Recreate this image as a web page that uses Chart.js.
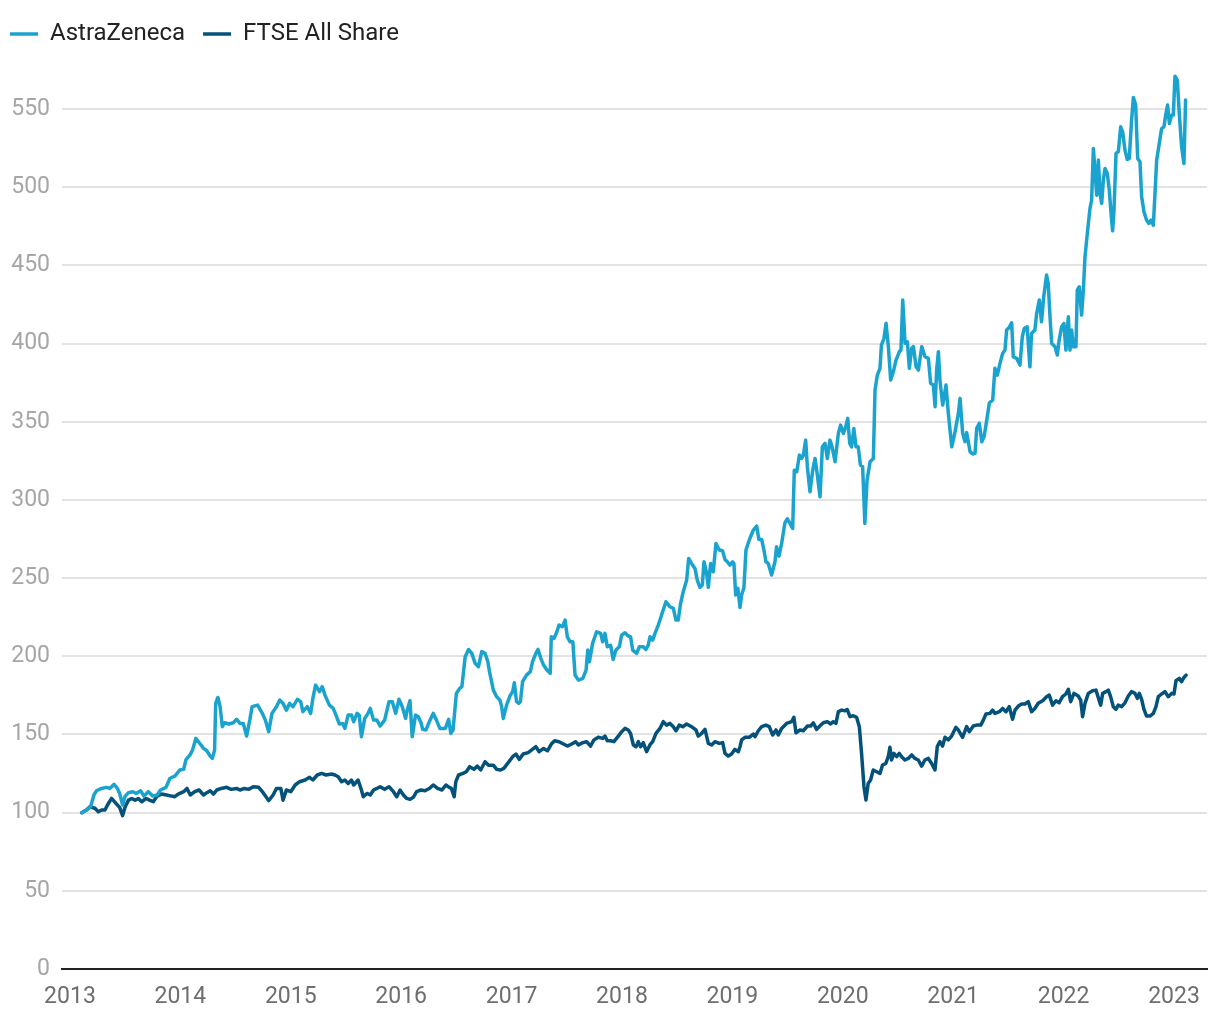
<!DOCTYPE html>
<html>
<head>
<meta charset="utf-8">
<title>AstraZeneca vs FTSE All Share</title>
<script src="https://cdn.jsdelivr.net/npm/chart.js@4.4.1/dist/chart.umd.min.js"></script>
<style>
  html, body { margin: 0; padding: 0; background: #ffffff; }
  canvas { display: block; }
</style>
</head>
<body>
<canvas id="chart" width="1220" height="1020"></canvas>
<script>
// Rebased index values (start = 100), dates as decimal years
const azYears = [
  2013.106, 2013.15, 2013.187, 2013.217, 2013.24, 2013.287, 2013.33, 2013.36, 2013.40, 2013.43,
  2013.45, 2013.477, 2013.50, 2013.53, 2013.57, 2013.60, 2013.64, 2013.67, 2013.71, 2013.75,
  2013.79, 2013.82, 2013.87, 2013.906, 2013.95, 2013.996, 2014.03, 2014.05, 2014.087, 2014.11,
  2014.14, 2014.18, 2014.21, 2014.24, 2014.27, 2014.29, 2014.31, 2014.32, 2014.34, 2014.36,
  2014.38, 2014.40, 2014.44, 2014.48, 2014.51, 2014.54, 2014.57, 2014.60, 2014.63, 2014.65,
  2014.70, 2014.74, 2014.77, 2014.80, 2014.83, 2014.87, 2014.90, 2014.93, 2014.96, 2014.99,
  2015.02, 2015.06, 2015.09, 2015.11, 2015.15, 2015.18, 2015.20, 2015.225, 2015.26, 2015.285,
  2015.31, 2015.35, 2015.385, 2015.415, 2015.44, 2015.47, 2015.49, 2015.52, 2015.55, 2015.57,
  2015.60, 2015.62, 2015.64, 2015.67, 2015.70, 2015.72, 2015.75, 2015.78, 2015.81, 2015.85,
  2015.89, 2015.92, 2015.95, 2015.98, 2016.01, 2016.04, 2016.055, 2016.08, 2016.10, 2016.13,
  2016.155, 2016.18, 2016.195, 2016.225, 2016.255, 2016.29, 2016.32, 2016.35, 2016.40, 2016.43,
  2016.45, 2016.47, 2016.50, 2016.53, 2016.55, 2016.58, 2016.61, 2016.64, 2016.67, 2016.70,
  2016.73, 2016.76, 2016.785, 2016.80, 2016.835, 2016.865, 2016.895, 2016.91, 2016.925, 2016.955,
  2016.985, 2017.01, 2017.025, 2017.045, 2017.065, 2017.08, 2017.10, 2017.135, 2017.17, 2017.19,
  2017.22, 2017.24, 2017.265, 2017.29, 2017.32, 2017.35, 2017.36, 2017.385, 2017.41, 2017.43,
  2017.46, 2017.485, 2017.505, 2017.53, 2017.555, 2017.575, 2017.605, 2017.645, 2017.675, 2017.69,
  2017.705, 2017.734, 2017.77, 2017.807, 2017.825, 2017.846, 2017.867, 2017.897, 2017.92, 2017.945,
  2017.976, 2017.997, 2018.027, 2018.057, 2018.078, 2018.097, 2018.133, 2018.157, 2018.193, 2018.217,
  2018.238, 2018.254, 2018.278, 2018.299, 2018.329, 2018.359, 2018.398, 2018.435, 2018.465, 2018.489,
  2018.51, 2018.531, 2018.555, 2018.586, 2018.604, 2018.63, 2018.661, 2018.682, 2018.706, 2018.728,
  2018.743, 2018.767, 2018.782, 2018.803, 2018.827, 2018.851, 2018.881, 2018.911, 2018.933, 2018.954,
  2018.978, 2019.002, 2019.014, 2019.03, 2019.05, 2019.069, 2019.084, 2019.105, 2019.123, 2019.153,
  2019.19, 2019.22, 2019.24, 2019.265, 2019.286, 2019.304, 2019.325, 2019.355, 2019.386, 2019.40,
  2019.422, 2019.446, 2019.476, 2019.497, 2019.522, 2019.546, 2019.561, 2019.583, 2019.607, 2019.628,
  2019.643, 2019.664, 2019.679, 2019.703, 2019.728, 2019.749, 2019.77, 2019.794, 2019.815, 2019.839,
  2019.86, 2019.884, 2019.903, 2019.93, 2019.96, 2019.98, 2020.005, 2020.026, 2020.045, 2020.063,
  2020.08, 2020.10, 2020.12, 2020.14, 2020.16, 2020.18, 2020.20, 2020.22, 2020.247, 2020.277,
  2020.292, 2020.313, 2020.337, 2020.35, 2020.373, 2020.392, 2020.413, 2020.434, 2020.458, 2020.482,
  2020.512, 2020.527, 2020.543, 2020.564, 2020.585, 2020.603, 2020.624, 2020.64, 2020.664, 2020.685,
  2020.715, 2020.745, 2020.775, 2020.796, 2020.82, 2020.836, 2020.85, 2020.866, 2020.88, 2020.905,
  2020.935, 2020.956, 2020.987, 2021.017, 2021.047, 2021.062, 2021.086, 2021.107, 2021.122, 2021.153,
  2021.177, 2021.198, 2021.213, 2021.237, 2021.259, 2021.28, 2021.304, 2021.328, 2021.358, 2021.378,
  2021.40, 2021.424, 2021.448, 2021.469, 2021.484, 2021.508, 2021.53, 2021.544, 2021.575, 2021.605,
  2021.626, 2021.644, 2021.67, 2021.695, 2021.71, 2021.74, 2021.756, 2021.78, 2021.80, 2021.82,
  2021.846, 2021.861, 2021.877, 2021.892, 2021.922, 2021.943, 2021.96, 2021.982, 2022.003, 2022.021,
  2022.043, 2022.058, 2022.073, 2022.088, 2022.112, 2022.124, 2022.142, 2022.163, 2022.179, 2022.194,
  2022.215, 2022.239, 2022.254, 2022.27, 2022.284, 2022.30, 2022.315, 2022.33, 2022.345, 2022.36,
  2022.375, 2022.396, 2022.414, 2022.43, 2022.444, 2022.456, 2022.475, 2022.496, 2022.517, 2022.535,
  2022.556, 2022.577, 2022.595, 2022.616, 2022.632, 2022.653, 2022.671, 2022.692, 2022.707, 2022.728,
  2022.752, 2022.773, 2022.792, 2022.813, 2022.828, 2022.843, 2022.867, 2022.888, 2022.909, 2022.927,
  2022.942, 2022.958, 2022.979, 2022.994, 2023.009, 2023.03, 2023.048, 2023.069, 2023.09, 2023.105
];
const azValues = [
  100, 101.7, 103.8, 111.3, 114, 115.5, 116.2, 115.5, 118.1, 115.5,
  112.3, 104.9, 110.6, 112.8, 113.4, 112.3, 114, 110.6, 113.4, 110.6,
  111.3, 114.5, 116.2, 122, 123.4, 127.3, 127.7, 133.7, 136.9, 140,
  147.5, 143.9, 141.1, 139.6, 136.2, 134.7, 140, 169.9, 173.7, 167.8,
  155, 157.5, 156.7, 157.5, 159.7, 157.1, 157.1, 149, 159.7, 167.8,
  168.8, 163.9, 159.2, 151.8, 163.5, 167.8, 172, 169.9, 165.6, 169.9,
  167.8, 172.5, 171, 164.6, 167.8, 163.5, 173.1, 181.6, 177.4, 180.6,
  175.2, 168.8, 166.7, 161.4, 156.7, 157.1, 153.9, 162.4, 162.4, 158.2,
  163.5, 162.4, 148.6, 160.3, 163.5, 166.7, 159.2, 159.2, 155.4, 159.2,
  171, 171, 163.5, 172.5, 167.8, 160.3, 165.6, 171.6, 148.6, 162.4,
  161.4, 157.5, 153.3, 152.9, 158.2, 163.5, 159.2, 153.9, 153.9, 159.7,
  150.7, 152.9, 176.3, 179.5, 180.6, 199.7, 204.4, 201.9, 195.5, 193.4,
  203, 201.9, 196.6, 190.2, 178.4, 174.2, 172, 167.8, 160.3, 168.8,
  174.6, 177.4, 183.1, 171, 169.9, 171, 183.8, 188, 190.2, 196.6,
  201.9, 204.4, 198.7, 194.4, 191.2, 189.1, 212.5, 211.5, 215.7, 220,
  218.9, 223.2, 212.5, 209.3, 209.3, 188, 184.8, 185.9, 191.2, 204,
  196.6, 208.3, 215.7, 214.7, 209.3, 214.7, 206.1, 207.1, 198, 204,
  206.1, 213.6, 215.1, 213, 212.5, 204, 201.9, 206.1, 206.1, 204.4,
  207.2, 212.5, 210.4, 214.7, 220, 226.4, 234.9, 231.7, 230.7, 223.2,
  223.2, 233.9, 241.3, 248.8, 262.6, 259.4, 256.2, 248.8, 244.1, 245.6,
  260.5, 253, 244.1, 259.4, 254.1, 272.2, 268, 267.5, 262, 260.5,
  258.4, 260.5, 259.4, 239.2, 243.5, 231.3, 239.2, 244.1, 268, 274.4,
  280.8, 283.3, 274.8, 274.8, 268, 260.5, 259.4, 252, 260.5, 270.1,
  264.1, 272.2, 285.4, 288, 285, 281.8, 319.1, 318.1, 328.7, 326.6,
  328.7, 338.3, 321.3, 305.3, 319.1, 326.6, 315.9, 302.1, 334, 336.2,
  326.6, 338.3, 334, 324.5, 342.6, 347.9, 342.6, 346.8, 352.2, 336.2,
  334, 345.8, 334, 334, 322.3, 321.3, 285, 312.7, 324.5, 326.6,
  370.3, 379.9, 384.2, 399.1, 403.4, 413, 398.1, 376.7, 382, 389.5,
  394.8, 395.9, 427.9, 400.2, 401.2, 384.2, 397, 398.1, 385.2, 383.1,
  398.1, 391.6, 390.6, 374.6, 373.5, 359.7, 383.1, 394.8, 376.7, 360.7,
  373.5, 355.4, 334, 343.7, 355.4, 365, 342.6, 337.3, 343.1, 330.9,
  329.4, 329.8, 345.8, 349, 337.3, 340.5, 351.1, 362.2, 363.9, 384.2,
  379.9, 387.4, 393.7, 395.9, 408.7, 410.4, 413.4, 391.6, 390.6, 386.3,
  404.4, 409.7, 410.8, 385.2, 406.5, 408.7, 419.3, 427.9, 414, 430,
  443.9, 438.5, 417.2, 400.2, 398, 392.7, 402.3, 410.8, 412.9, 395.9,
  417.2, 395.9, 408.7, 398, 398, 434.3, 436.4, 418.3, 434.3, 455.6,
  470.5, 486.5, 491.8, 524.9, 511, 495, 517.4, 496.1, 489.7, 504.6,
  512.1, 508.9, 498.2, 483.3, 472.2, 484.4, 521.7, 522.8, 538.7, 535.5,
  523.8, 517.8, 518.5, 543, 557.5, 552.6, 518.5, 516.3, 493.9, 484.4,
  479, 476.9, 479, 475.8, 496.1, 517.4, 528.1, 537.6, 538.7, 547.2,
  552.6, 540.8, 546.2, 546.2, 571.1, 568.6, 547.2, 525.9, 515.3, 555.8
];

const ftseYears = [
  2013.106, 2013.15, 2013.18, 2013.226, 2013.257, 2013.287, 2013.317, 2013.34, 2013.377, 2013.417,
  2013.45, 2013.477, 2013.50, 2013.53, 2013.56, 2013.59, 2013.62, 2013.65, 2013.69, 2013.72,
  2013.755, 2013.79, 2013.83, 2013.875, 2013.92, 2013.95, 2013.98, 2014.03, 2014.06, 2014.09,
  2014.13, 2014.17, 2014.21, 2014.24, 2014.27, 2014.30, 2014.33, 2014.37, 2014.42, 2014.46,
  2014.51, 2014.54, 2014.58, 2014.62, 2014.66, 2014.71, 2014.75, 2014.80, 2014.84, 2014.87,
  2014.91, 2014.93, 2014.96, 2015.00, 2015.04, 2015.08, 2015.13, 2015.17, 2015.20, 2015.24,
  2015.28, 2015.32, 2015.37, 2015.40, 2015.43, 2015.46, 2015.49, 2015.52, 2015.55, 2015.57,
  2015.61, 2015.64, 2015.657, 2015.69, 2015.72, 2015.75, 2015.78, 2015.81, 2015.85, 2015.89,
  2015.93, 2015.96, 2015.99, 2016.02, 2016.05, 2016.08, 2016.11, 2016.14, 2016.18, 2016.215,
  2016.255, 2016.29, 2016.33, 2016.37, 2016.405, 2016.435, 2016.455, 2016.48, 2016.495, 2016.52,
  2016.56, 2016.59, 2016.62, 2016.66, 2016.69, 2016.72, 2016.76, 2016.79, 2016.835, 2016.865,
  2016.90, 2016.93, 2016.97, 2017.01, 2017.04, 2017.07, 2017.105, 2017.15, 2017.18, 2017.22,
  2017.25, 2017.29, 2017.325, 2017.36, 2017.39, 2017.43, 2017.47, 2017.505, 2017.545, 2017.58,
  2017.605, 2017.645, 2017.68, 2017.715, 2017.746, 2017.785, 2017.825, 2017.846, 2017.867, 2017.897,
  2017.927, 2017.967, 2017.997, 2018.027, 2018.057, 2018.078, 2018.103, 2018.127, 2018.148, 2018.169,
  2018.193, 2018.223, 2018.253, 2018.278, 2018.308, 2018.344, 2018.374, 2018.404, 2018.435, 2018.465,
  2018.489, 2018.519, 2018.55, 2018.586, 2018.63, 2018.67, 2018.691, 2018.722, 2018.752, 2018.782,
  2018.812, 2018.842, 2018.881, 2018.912, 2018.933, 2018.963, 2018.993, 2019.023, 2019.054, 2019.069,
  2019.084, 2019.114, 2019.153, 2019.19, 2019.205, 2019.235, 2019.265, 2019.304, 2019.334, 2019.365,
  2019.395, 2019.416, 2019.446, 2019.491, 2019.537, 2019.557, 2019.576, 2019.612, 2019.643, 2019.679,
  2019.709, 2019.733, 2019.763, 2019.80, 2019.824, 2019.86, 2019.89, 2019.914, 2019.938, 2019.96,
  2019.99, 2020.02, 2020.04, 2020.065, 2020.095, 2020.125, 2020.15, 2020.17, 2020.192, 2020.21,
  2020.23, 2020.252, 2020.276, 2020.307, 2020.337, 2020.36, 2020.39, 2020.412, 2020.427, 2020.442,
  2020.463, 2020.488, 2020.512, 2020.533, 2020.563, 2020.593, 2020.624, 2020.654, 2020.684, 2020.714,
  2020.744, 2020.775, 2020.805, 2020.835, 2020.856, 2020.88, 2020.904, 2020.926, 2020.956, 2020.986,
  2021.025, 2021.046, 2021.085, 2021.122, 2021.146, 2021.182, 2021.212, 2021.25, 2021.273, 2021.297,
  2021.333, 2021.357, 2021.378, 2021.418, 2021.448, 2021.478, 2021.508, 2021.538, 2021.56, 2021.59,
  2021.62, 2021.65, 2021.68, 2021.71, 2021.74, 2021.77, 2021.81, 2021.846, 2021.87, 2021.90,
  2021.93, 2021.96, 2021.99, 2022.02, 2022.043, 2022.064, 2022.094, 2022.133, 2022.155, 2022.172,
  2022.194, 2022.224, 2022.263, 2022.293, 2022.314, 2022.336, 2022.354, 2022.384, 2022.405, 2022.426,
  2022.45, 2022.474, 2022.495, 2022.526, 2022.556, 2022.586, 2022.616, 2022.647, 2022.668, 2022.686,
  2022.707, 2022.728, 2022.752, 2022.782, 2022.813, 2022.837, 2022.858, 2022.888, 2022.918, 2022.949,
  2022.979, 2023.00, 2023.018, 2023.048, 2023.069, 2023.09, 2023.11
];
const ftseValues = [
  100, 101.7, 103.8, 102.8, 100.6, 101.7, 101.7, 104.9, 109.1, 105.9,
  103.4, 98.1, 103.8, 108, 109.1, 108, 109.1, 107, 109.1, 108,
  107, 110.6, 111.9, 111.3, 110.6, 110.2, 111.9, 113.4, 115.5, 111.3,
  113.4, 114.5, 111.3, 112.8, 114, 111.9, 114.5, 115.5, 116.2, 114.9,
  115.5, 114.5, 115.5, 114.9, 116.6, 116.2, 112.8, 107.7, 111.3, 115.5,
  115.5, 108, 114.5, 113.4, 117.7, 119.8, 120.9, 122.6, 120.9, 124.1,
  125.1, 124.1, 124.7, 124.1, 123, 119.8, 120.9, 118.7, 120.9, 117.7,
  120.9, 114.5, 110.2, 112.3, 111.3, 114.5, 115.5, 116.6, 114.9, 116.6,
  113.4, 110.2, 114.5, 111.3, 109.1, 108.5, 109.8, 113.4, 114.5, 114,
  115.5, 117.7, 115.5, 114.5, 117.7, 116.2, 115.5, 110.2, 119.8, 124.1,
  125.1, 126.2, 129.4, 127.7, 129.8, 127.3, 132.6, 130.4, 130.4, 127.7,
  127.3, 128.3, 132, 135.8, 137.5, 134.1, 137.5, 138.4, 140, 142.2,
  139, 141.1, 139.6, 143.9, 146, 145.4, 143.9, 142.6, 143.9, 145.4,
  143.3, 144.8, 145.4, 142.6, 146.5, 148.2, 147.5, 149, 146, 146,
  145.4, 149, 151.8, 153.9, 152.9, 150.7, 143.3, 142.2, 145.4, 142.2,
  144.8, 139, 143.3, 145.4, 150.7, 153.9, 158.2, 156, 157.1, 155,
  152.4, 156, 155, 156.7, 155, 152.9, 149, 150.7, 153.3, 144.3,
  143.3, 145.4, 144.3, 144.8, 137.9, 136.2, 137.5, 140.5, 139, 142.2,
  146.5, 148.2, 148.2, 150.3, 148.6, 152.4, 155, 156, 155, 149.7,
  152.9, 149.7, 153.9, 157.1, 158.2, 161, 151.1, 152.9, 152.4, 155.4,
  155.4, 157.5, 153.3, 156, 157.5, 158.2, 156.7, 158.2, 157.1, 164.6,
  165.6, 165.2, 166, 161.4, 162, 161, 155, 138, 116.6, 108.1,
  118.7, 120.9, 127.3, 126.2, 125.1, 130.5, 131.5, 135.8, 141.8, 133.7,
  137.9, 135.8, 137.9, 135.8, 133.7, 134.7, 136.9, 134.7, 133.7, 129.8,
  133.7, 134.7, 131.5, 127.3, 142.2, 145.4, 142.6, 148.2, 146.5, 149,
  154.6, 152.9, 148.2, 155, 151.8, 155.4, 156, 156, 159.2, 163.1,
  163.5, 165.6, 163.5, 164.6, 166.7, 164.6, 167.8, 159.7, 165.6, 168.2,
  169.5, 169.5, 171, 164.6, 166.7, 170, 171.6, 174.2, 175.2, 168.8,
  171.6, 170.3, 174.2, 175.9, 178.9, 171, 176.3, 174.6, 172, 161.4,
  169.9, 176.3, 178, 178.4, 173.7, 168.8, 176.3, 177.4, 178.4, 174.2,
  167.8, 166.1, 168.8, 167.8, 170.3, 174.6, 177.4, 176.3, 173.1, 176.3,
  172.5, 166.1, 161.8, 161.8, 163.5, 167.8, 174.2, 175.9, 177.4, 174.2,
  176.3, 175.9, 184.4, 185.9, 183.8, 186.5, 188
];

const yearTicks = [2013, 2014, 2015, 2016, 2017, 2018, 2019, 2020, 2021, 2022, 2023];
const valueTicks = [0, 50, 100, 150, 200, 250, 300, 350, 400, 450, 500, 550];

const AZ_COLOR = '#1ba3cf';
const FTSE_COLOR = '#04517a';

function toPoints(xs, ys) {
    return xs.map((x, i) => ({ x: x, y: ys[i] }));
}

Chart.defaults.font.family = 'Roboto, "Noto Sans", sans-serif';

const ctx = document.getElementById('chart');
new Chart(ctx, {
    type: 'line',
    data: {
        datasets: [{
            label: 'AstraZeneca',
            data: toPoints(azYears, azValues),
            borderColor: AZ_COLOR,
            backgroundColor: AZ_COLOR,
            borderWidth: 3.5,
            pointRadius: 0,
            tension: 0,
            borderCapStyle: 'round',
            borderJoinStyle: 'round'
        }, {
            label: 'FTSE All Share',
            data: toPoints(ftseYears, ftseValues),
            borderColor: FTSE_COLOR,
            backgroundColor: FTSE_COLOR,
            borderWidth: 3.5,
            pointRadius: 0,
            tension: 0,
            borderCapStyle: 'round',
            borderJoinStyle: 'round'
        }]
    },
    options: {
        responsive: false,
        animation: false,
        layout: {
            // negative left pad lets the legend start at x=10 with wider item gaps
            padding: { top: 4, right: 13, bottom: 0, left: -8 }
        },
        plugins: {
            legend: {
                position: 'top',
                align: 'start',
                labels: {
                    usePointStyle: true,
                    pointStyle: 'line',
                    pointStyleWidth: 28,
                    padding: 18,
                    color: '#222222',
                    font: { size: 24 }
                }
            },
            tooltip: { enabled: false }
        },
        scales: {
            x: {
                type: 'linear',
                min: 2012.928,
                max: 2023.299,
                afterBuildTicks: function(scale) {
                    scale.ticks = yearTicks.map(v => ({ value: v }));
                },
                afterFit: function(scale) {
                    scale.height = 51;
                },
                grid: { display: false, drawTicks: false },
                border: { display: true, color: '#222222', width: 2 },
                ticks: {
                    autoSkip: false,
                    maxRotation: 0,
                    padding: 14,
                    color: '#6e6e6e',
                    font: { size: 23 },
                    callback: function(value) {
                        return String(value);
                    }
                }
            },
            y: {
                min: 0,
                max: 584,
                afterBuildTicks: function(scale) {
                    scale.ticks = valueTicks.map(v => ({ value: v }));
                },
                afterFit: function(scale) {
                    scale.width = 70;
                },
                grid: { color: '#e3e3e3', lineWidth: 2, drawTicks: false },
                border: { display: false },
                ticks: {
                    padding: 12,
                    color: '#a6a6a6',
                    font: { size: 23 }
                }
            }
        }
    }
});
</script>
</body>
</html>
